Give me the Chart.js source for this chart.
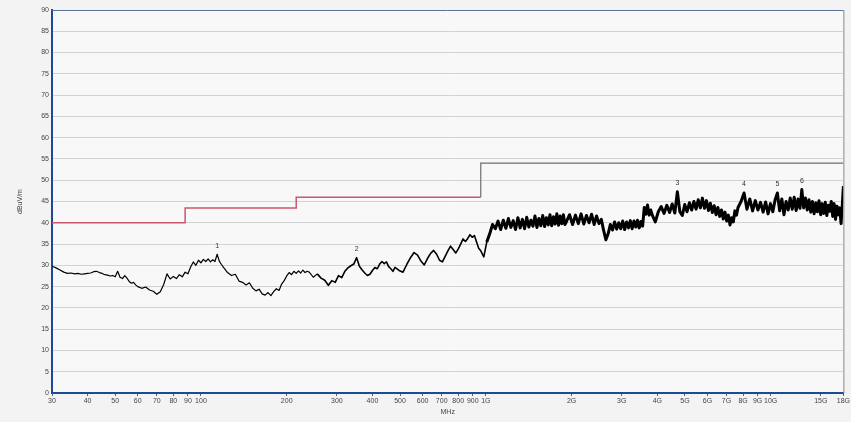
<!DOCTYPE html>
<html>
<head>
<meta charset="utf-8">
<title>Radiated emission 30 MHz - 18 GHz</title>
<script src="https://cdn.jsdelivr.net/npm/chart.js@4.4.1/dist/chart.umd.min.js"></script>
<style>
  html, body { margin: 0; padding: 0; background: #f3f3f3; }
  #wrap { width: 851px; height: 422px; }
</style>
</head>
<body>
<div id="wrap"><canvas id="emi" width="851" height="422"></canvas></div>
<script>
// measured trace, frequency in MHz and level in dBuV/m
const traceFreqMHz = [
  30, 31, 32, 33, 34, 35, 36, 37, 38, 39, 40, 41, 42, 43, 44, 45, 46, 47, 48, 49,
  50, 51, 52, 53, 54, 55, 56, 57, 58, 59,
  60, 62, 64, 66, 68, 70, 72, 74, 76, 78, 80, 82, 84, 86, 88, 90, 92, 94, 96, 98,
  100, 102, 104, 106, 108, 110, 112, 114, 116, 118,
  120, 124, 128, 132, 136, 140, 144, 148, 152, 156, 160, 164, 168, 172, 176, 180,
  184, 188, 192, 196, 200, 204, 208, 212, 216, 220, 224, 228, 232, 236,
  240, 248, 256, 264, 272, 280, 288, 296, 304, 312, 320, 328, 336, 344, 352, 360,
  368, 376, 384, 392, 400, 408, 416, 424, 432, 440, 448, 456, 464, 472,
  480, 496, 512, 528, 544, 560, 576, 592, 608, 624, 640, 656, 672, 688, 704, 720,
  736, 752, 768, 784, 800, 816, 832, 848, 864, 880, 896, 912, 928, 944,
  960, 984, 1008, 1032, 1056, 1080, 1104, 1128, 1152, 1176, 1200, 1224, 1248, 1272,
  1296, 1320, 1344, 1368, 1392, 1416, 1440, 1464, 1488, 1512, 1536, 1560, 1584, 1608,
  1632, 1656, 1680, 1704, 1728, 1752, 1776, 1800, 1824, 1848, 1872, 1896,
  1920, 1968, 2016, 2064, 2112, 2160, 2208, 2256, 2304, 2352, 2400, 2448, 2496, 2544,
  2592, 2640, 2688, 2736, 2784, 2832, 2880, 2928, 2976, 3024, 3072, 3120, 3168, 3216,
  3264, 3312, 3360, 3408, 3456, 3504, 3552, 3600, 3648, 3696, 3744, 3792,
  3840, 3936, 4032, 4128, 4224, 4320, 4416, 4512, 4608, 4704, 4800, 4896, 4992, 5088,
  5184, 5280, 5376, 5472, 5568, 5664, 5760, 5856, 5952, 6048, 6144, 6240, 6336, 6432,
  6528, 6624, 6720, 6816, 6912, 7008, 7104, 7200, 7296, 7392, 7488, 7584,
  7680, 7872, 8064, 8256, 8448, 8640, 8832, 9024, 9216, 9408, 9600, 9792, 9984, 10176,
  10368, 10560, 10752, 10944, 11136, 11328, 11520, 11712, 11904, 12096, 12288, 12480,
  12672, 12864, 13056, 13248, 13440, 13632, 13824, 14016, 14208, 14400, 14592, 14784,
  14976, 15168,
  15360, 15552, 15744, 15936, 16128, 16320, 16512, 16704, 16896, 17088, 17280, 17472,
  17664, 17856, 18000
];
const traceLevel = [
  29.8, 29.4, 28.9, 28.4, 28.1, 28.2, 28.0, 28.1, 27.9, 28.0, 28.1, 28.2, 28.5, 28.6, 28.3, 28.1, 27.8, 27.7, 27.5, 27.6,
  27.3, 28.6, 27.2, 26.9, 27.6, 27.0, 26.2, 25.8, 26.0, 25.4,
  25.0, 24.6, 24.9, 24.2, 23.9, 23.2, 23.8, 25.5, 28.0, 26.8, 27.4, 26.9, 27.8, 27.3, 28.4, 28.0, 29.6, 30.8, 30.0, 31.2,
  30.6, 31.4, 30.9, 31.5, 30.8, 31.3, 30.9, 32.6, 31.0, 30.2,
  29.5, 28.3, 27.6, 27.9, 26.3, 26.0, 25.4, 25.9, 24.6, 24.0, 24.4, 23.3, 23.0, 23.6, 22.9, 23.8,
  24.5, 24.1, 25.6, 26.4, 27.5, 28.3, 27.8, 28.6, 28.1, 28.7, 28.2, 28.9, 28.3, 28.6,
  28.4, 27.2, 28.0, 27.0, 26.5, 25.3, 26.4, 26.0, 27.6, 27.1, 28.6, 29.4, 29.9, 30.3, 31.8, 29.8,
  28.9, 28.2, 27.6, 27.9, 28.8, 29.5, 29.2, 30.3, 30.9, 30.4, 30.8, 29.7, 29.2, 28.6,
  29.5, 28.8, 28.4, 30.2, 31.8, 33.0, 32.4, 31.0, 30.1, 31.6, 32.8, 33.5, 32.6, 31.2, 30.8, 32.1,
  33.4, 34.5, 33.7, 32.9, 33.8, 35.0, 36.2, 35.6, 36.3, 37.2, 36.6, 37.0, 35.5, 34.0,
  33.4, 32.0, 35.5, 37.4, 39.6, 38.6, 40.4, 38.4, 40.6, 38.7, 41.0, 38.9, 40.5, 38.4,
  41.2, 38.8, 40.8, 38.6, 41.3, 39.0, 40.6, 39.2, 41.6, 38.9, 41.0, 39.3, 41.7, 39.1,
  41.2, 39.5, 41.9, 39.3, 41.4, 39.7, 42.1, 39.4, 41.6, 39.8, 41.9, 39.6,
  40.3, 41.9, 39.6, 41.8, 39.8, 42.1, 39.7, 41.7, 40.0, 42.0, 39.6, 41.6, 39.8, 40.8,
  38.2, 36.0, 37.4, 39.6, 38.3, 40.2, 38.5, 40.0, 38.6, 40.4, 38.4, 40.2, 38.8, 40.5,
  38.6, 40.4, 39.0, 40.6, 38.8, 40.3, 39.2, 43.6, 42.0, 44.2, 41.8, 43.0,
  41.8, 40.2, 42.6, 43.8, 42.2, 44.1, 42.4, 44.4, 42.3, 47.3, 42.6, 41.7, 44.3, 42.6,
  44.7, 43.0, 45.0, 43.2, 45.4, 43.5, 45.8, 43.4, 45.2, 42.9, 44.6, 42.4, 44.0, 41.9,
  43.6, 41.5, 43.0, 40.9, 42.5, 40.4, 41.8, 39.5, 41.2, 40.2, 42.8, 41.8,
  43.6, 45.0, 47.0, 43.2, 45.6, 42.8, 45.2, 43.0, 44.8, 42.5, 44.9, 42.1, 44.5, 42.6,
  45.4, 47.0, 42.8, 45.6, 41.9, 45.0, 43.0, 45.8, 43.2, 46.0, 42.9, 45.6,
  43.4, 47.8, 43.5, 45.8, 43.0, 45.4, 42.5, 45.0, 42.1, 44.7, 42.6, 45.2,
  41.9, 44.5,
  42.2, 44.8, 41.7, 44.1, 42.7, 45.0, 41.5, 44.5, 40.8, 43.9, 41.9, 43.5,
  39.8, 44.5, 48.6
];

// limit line (stepped), below and above 1 GHz
const limitLowFreq = [30, 88, 88, 216, 216, 960];
const limitLowLevel = [40, 40, 43.5, 43.5, 46, 46];
const limitHighFreq = [960, 960, 18000];
const limitHighLevel = [46, 54, 54];

// marked peaks
const markerFreq = [114, 352, 4704, 8064, 10560, 12864];
const markerLevel = [32.6, 31.8, 47.3, 47.0, 47.0, 47.8];
const markerText = ["1", "2", "3", "4", "5", "6"];

// x axis ticks
const xTicks = [30, 40, 50, 60, 70, 80, 90, 100, 200, 300, 400, 500, 600, 700, 800, 900,
  1000, 2000, 3000, 4000, 5000, 6000, 7000, 8000, 9000, 10000, 15000, 18000];
const xTickLabels = ["30", "40", "50", "60", "70", "80", "90", "100", "200", "300", "400",
  "500", "600", "700", "800", "900", "1G", "2G", "3G", "4G", "5G", "6G", "7G", "8G", "9G",
  "10G", "15G", "18G"];

function toPoints(xs, ys) {
  return xs.map((x, i) => ({ x: x, y: ys[i] }));
}

const tickFont = { family: "'Liberation Sans', Arial, sans-serif", size: 7 };

const plotFrame = {
  id: "plotFrame",
  beforeDraw(chart) {
    const { ctx, chartArea: a } = chart;
    ctx.save();
    ctx.fillStyle = "#f8f8f8";
    ctx.fillRect(a.left, a.top, a.right - a.left, a.bottom - a.top);
    ctx.restore();
  },
  afterDraw(chart) {
    const { ctx, chartArea: a } = chart;
    ctx.save();
    ctx.lineWidth = 1;
    ctx.strokeStyle = "#5d7396";
    ctx.beginPath();
    ctx.moveTo(a.left, a.top + 0.5);
    ctx.lineTo(a.right, a.top + 0.5);
    ctx.stroke();
    ctx.strokeStyle = "#8c8c8c";
    ctx.beginPath();
    ctx.moveTo(a.right + 0.5, a.top);
    ctx.lineTo(a.right + 0.5, a.bottom);
    ctx.stroke();
    ctx.restore();
  }
};

const peakLabels = {
  id: "peakLabels",
  afterDatasetsDraw(chart) {
    const { ctx, scales } = chart;
    ctx.save();
    ctx.font = "7px 'Liberation Sans', Arial, sans-serif";
    ctx.fillStyle = "#333";
    ctx.textAlign = "center";
    ctx.textBaseline = "bottom";
    for (let i = 0; i < markerFreq.length; i++) {
      const px = scales.x.getPixelForValue(markerFreq[i]);
      const py = scales.y.getPixelForValue(markerLevel[i]);
      ctx.fillText(markerText[i], px, py - 5);
    }
    ctx.restore();
  }
};

new Chart(document.getElementById("emi"), {
  type: "line",
  data: {
    datasets: [
      {
        label: "Limit < 1 GHz",
        data: toPoints(limitLowFreq, limitLowLevel),
        borderColor: "#c9566e",
        borderWidth: 1.5,
        pointRadius: 0
      },
      {
        label: "Limit > 1 GHz",
        data: toPoints(limitHighFreq, limitHighLevel),
        borderColor: "#6e6e6e",
        borderWidth: 1.2,
        pointRadius: 0
      },
      {
        label: "Level",
        data: toPoints(traceFreqMHz, traceLevel),
        borderColor: "#000",
        borderWidth: 1.2,
        borderJoinStyle: "round",
        pointRadius: 0,
        tension: 0,
        segment: {
          borderWidth: c => (c.p0.parsed.x >= 1000 ? 3 : (c.p0.parsed.x >= 250 ? 1.6 : 1.2))
        }
      }
    ]
  },
  options: {
    responsive: false,
    animation: false,
    devicePixelRatio: 1,
    layout: { padding: { left: 8, top: 10, right: 5, bottom: 4 } },
    plugins: {
      legend: { display: false },
      tooltip: { enabled: false }
    },
    scales: {
      x: {
        type: "logarithmic",
        min: 30,
        max: 18000,
        afterBuildTicks: s => { s.ticks = xTicks.map(v => ({ value: v })); },
        afterFit: s => { s.height = 25; },
        ticks: {
          autoSkip: false,
          maxRotation: 0,
          padding: 1,
          color: "#444",
          font: tickFont,
          callback: (v, i) => xTickLabels[i]
        },
        grid: { drawOnChartArea: false, drawTicks: true, tickLength: 3, color: "#4d6290" },
        border: { color: "#1d4a97", width: 2 },
        title: {
          display: true,
          text: "MHz",
          color: "#444",
          font: tickFont,
          padding: { top: 0, bottom: 2 }
        }
      },
      y: {
        min: 0,
        max: 90,
        afterFit: s => { s.width = 44; },
        ticks: { stepSize: 5, padding: 3, color: "#444", font: tickFont },
        grid: { color: "#d2d2d2", drawTicks: false },
        border: { color: "#1d4a97", width: 2 },
        title: {
          display: true,
          text: "dBuV/m",
          color: "#444",
          font: tickFont,
          padding: { top: 8, bottom: 0 }
        }
      }
    }
  },
  plugins: [plotFrame, peakLabels]
});
</script>
</body>
</html>
